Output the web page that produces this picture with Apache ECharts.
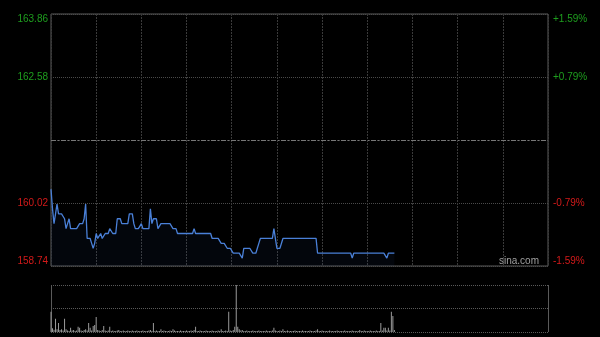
<!DOCTYPE html>
<html>
<head>
<meta charset="utf-8">
<script src="https://cdn.jsdelivr.net/npm/echarts@6/dist/echarts.min.js"></script>
<style>html,body{margin:0;padding:0;background:#000;}#c{width:600px;height:337px;}</style>
</head>
<body>
<div id="c"></div>
<script>
const prevClose = 161.30;
const leftTicks = ['158.74', '160.02', '', '162.58', '163.86'];
const rightTicks = ['-1.59%', '-0.79%', '', '+0.79%', '+1.59%'];
const prices = [
  160.3,159.9,159.6,159.8,160.0,159.8,159.8,159.8,159.8,159.7,
  159.5,159.6,159.7,159.5,159.5,159.5,159.5,159.5,159.5,159.6,
  159.6,159.6,159.7,160.0,159.3,159.3,159.3,159.2,159.1,159.2,
  159.4,159.3,159.3,159.4,159.3,159.3,159.4,159.4,159.4,159.5,
  159.5,159.4,159.4,159.4,159.7,159.7,159.7,159.6,159.6,159.6,
  159.6,159.6,159.8,159.8,159.8,159.6,159.5,159.5,159.5,159.5,
  159.6,159.5,159.5,159.5,159.5,159.5,159.9,159.6,159.7,159.7,
  159.7,159.5,159.5,159.6,159.6,159.6,159.6,159.6,159.6,159.6,
  159.6,159.5,159.5,159.5,159.4,159.4,159.4,159.4,159.4,159.4,
  159.4,159.4,159.4,159.4,159.4,159.5,159.4,159.4,159.4,159.4,
  159.4,159.4,159.4,159.4,159.4,159.4,159.4,159.3,159.3,159.3,
  159.3,159.3,159.3,159.2,159.2,159.2,159.2,159.1,159.1,159.1,
  159.1,159.0,159.0,159.0,159.0,159.0,159.0,158.9,159.1,159.1,
  159.1,159.1,159.1,159.1,159.0,159.0,159.0,159.1,159.2,159.3,
  159.3,159.3,159.3,159.3,159.3,159.3,159.3,159.3,159.5,159.5,
  159.1,159.1,159.1,159.1,159.3,159.3,159.3,159.3,159.3,159.3,
  159.3,159.3,159.3,159.3,159.3,159.3,159.3,159.3,159.3,159.3,
  159.3,159.3,159.3,159.3,159.3,159.3,159.3,159.0,159.0,159.0,
  159.0,159.0,159.0,159.0,159.0,159.0,159.0,159.0,159.0,159.0,
  159.0,159.0,159.0,159.0,159.0,159.0,159.0,159.0,159.0,159.0,
  158.9,159.0,159.0,159.0,159.0,159.0,159.0,159.0,159.0,159.0,
  159.0,159.0,159.0,159.0,159.0,159.0,159.0,159.0,159.0,159.0,
  159.0,159.0,159.0,158.9,159.0,159.0,159.0,159.0,159.0
];
const volumes = [
  43,8,5,28,6,19,4,6,3,28,
  6,3,2,9,3,4,2,3,11,9,
  3,2,4,6,3,19,9,3,13,15,
  32,4,3,2,4,13,3,2,3,11,
  2,3,2,2,3,4,2,2,3,2,
  2,3,2,2,3,2,2,3,2,2,
  2,3,2,2,2,3,4,2,19,2,
  3,2,2,6,2,3,2,2,2,3,
  2,6,3,2,2,2,3,2,2,2,
  3,2,2,3,2,4,11,2,2,3,
  2,2,2,3,2,2,2,3,2,2,
  2,3,2,6,2,2,3,2,43,3,
  2,4,11,100,11,6,3,4,2,2,
  3,2,2,2,3,2,2,2,3,2,
  2,2,2,3,2,2,2,3,9,3,
  2,2,3,2,6,2,2,3,2,2,
  2,2,3,2,2,2,2,3,2,2,
  2,2,3,2,2,2,3,6,2,2,
  3,2,2,2,2,3,2,2,2,2,
  3,2,2,2,2,3,2,2,2,2,
  3,2,2,2,2,4,2,2,3,2,
  2,2,3,2,2,2,3,2,2,19,
  3,9,9,3,9,3,43,34,4
];
const totalMinutes = 330;

const lineData = prices.map((p, i) => [i, +(p - prevClose).toFixed(2)]);
const volData = volumes.map((v, i) => [i, v]);

const GREEN = '#1e9e1e', RED = '#d41a1a';
const font = 'Arial, "Liberation Sans", sans-serif';

const chart = echarts.init(document.getElementById('c'), null, {renderer: 'canvas'});
chart.setOption({
  backgroundColor: '#000',
  animation: false,
  grid: [
    {left: 51, top: 14, width: 497, height: 252, show: true, borderColor: '#5a5a5a', borderWidth: 1, backgroundColor: 'transparent'},
    {left: 51, top: 285, width: 497, height: 47, show: false}
  ],
  xAxis: [
    {type: 'value', gridIndex: 0, min: 0, max: totalMinutes, interval: 30,
     axisLine: {show: false}, axisTick: {show: false}, axisLabel: {show: false},
     splitLine: {show: true, lineStyle: {color: '#3a3a3a', type: [2, 1], width: 1}}},
    {type: 'value', gridIndex: 1, min: 0, max: totalMinutes, interval: totalMinutes,
     axisLine: {show: false}, axisTick: {show: false}, axisLabel: {show: false},
     splitLine: {show: true, lineStyle: {color: '#5a5a5a', type: 'solid', width: 1}}}
  ],
  yAxis: [
    {type: 'value', gridIndex: 0, position: 'left', min: -2.56, max: 2.56, interval: 1.28,
     axisLine: {show: false}, axisTick: {show: false},
     splitLine: {show: true, lineStyle: {color: '#4a4a4a', type: [1, 1], width: 1}},
     axisLabel: {show: true, margin: 3, fontSize: 10, fontFamily: font,
       verticalAlignMinLabel: 'bottom', verticalAlignMaxLabel: 'top',
       formatter: (v, i) => leftTicks[i],
       color: (v) => (v > 0 ? GREEN : RED)}},
    {type: 'value', gridIndex: 0, position: 'right', min: -2.56, max: 2.56, interval: 1.28,
     axisLine: {show: false}, axisTick: {show: false}, splitLine: {show: false},
     axisLabel: {show: true, margin: 5, fontSize: 10, fontFamily: font,
       verticalAlignMinLabel: 'bottom', verticalAlignMaxLabel: 'top',
       formatter: (v, i) => rightTicks[i],
       color: (v) => (v > 0 ? GREEN : RED)}},
    {type: 'value', gridIndex: 1, min: 0, max: 100, interval: 50,
     axisLine: {show: false}, axisTick: {show: false}, axisLabel: {show: false},
     splitLine: {show: true, lineStyle: {color: '#5a5a5a', type: [1, 1], width: 1}}}
  ],
  series: [
    {type: 'line', xAxisIndex: 0, yAxisIndex: 0, data: lineData, symbol: 'none',
     lineStyle: {color: '#4a80d8', width: 1.3},
     areaStyle: {color: 'rgba(40,70,140,0.12)', origin: 'start'},
     markLine: {silent: true, symbol: 'none', label: {show: false},
       lineStyle: {color: '#777', type: [5, 2, 1, 2], width: 1},
       data: [{yAxis: 0}]}},
    {type: 'bar', xAxisIndex: 1, yAxisIndex: 2, data: volData, barWidth: 1,
     itemStyle: {color: '#9a9a9a'}}
  ],
  graphic: [
    {type: 'text', left: 499, top: 256, style: {text: 'sina.com', fill: '#a0a0a0', font: '10px ' + font}}
  ]
});
</script>
</body>
</html>
